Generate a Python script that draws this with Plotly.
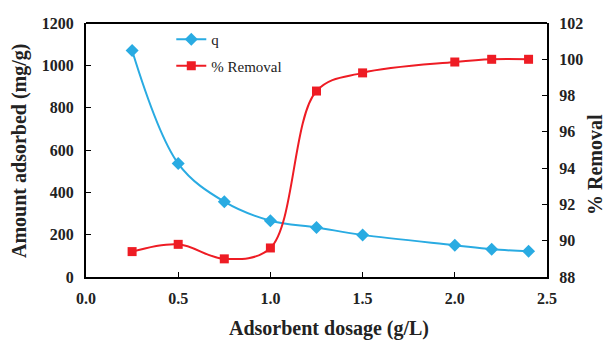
import plotly.graph_objects as go

dosage = [0.25, 0.5, 0.75, 1.0, 1.25, 1.5, 2.0, 2.2, 2.4]
q_values = [1070, 536, 356, 266, 234, 199, 150, 131, 122]
removal = [89.4, 89.8, 89.0, 89.6, 98.25, 99.25, 99.85, 100.0, 100.0]

x_ticks = [0.0, 0.5, 1.0, 1.5, 2.0, 2.5]
y1_ticks = [0, 200, 400, 600, 800, 1000, 1200]
y2_ticks = [88, 90, 92, 94, 96, 98, 100, 102]

BLUE = "#29ABE2"
RED = "#EE1C24"
FONT = "Liberation Serif, Times New Roman, serif"

fig = go.Figure()
fig.add_trace(go.Scatter(
    x=dosage, y=q_values, name="q", mode="lines+markers",
    line=dict(color=BLUE, width=2, shape="spline", smoothing=1.0),
    marker=dict(symbol="diamond", size=10, color=BLUE),
    legendgroup="a",
))
fig.add_trace(go.Scatter(
    x=dosage, y=removal, name="% Removal", mode="lines+markers", yaxis="y2",
    line=dict(color=RED, width=2, shape="spline", smoothing=1.0),
    marker=dict(symbol="square", size=9, color=RED),
    legendgroup="b",
))

tickfont = dict(family=FONT, size=16, color="#222222", weight="bold")
axis_common = dict(
    showline=True, linecolor="black", linewidth=2, mirror=False,
    ticks="inside", ticklen=5, tickwidth=1, tickcolor="black",
    showgrid=False, zeroline=False, tickfont=tickfont,
)

fig.update_layout(
    width=606, height=340,
    font=dict(family=FONT, color="#222222"),
    margin=dict(l=86, r=59, t=23, b=63),
    paper_bgcolor="white", plot_bgcolor="white",
    xaxis=dict(range=[0, 2.5], tickvals=x_ticks, tickformat=".1f",
               ticklabelstandoff=6, **axis_common),
    yaxis=dict(range=[0, 1200], tickvals=y1_ticks,
               ticklabelstandoff=7, **axis_common),
    yaxis2=dict(range=[88, 102], tickvals=y2_ticks, overlaying="y",
                side="right", ticklabelstandoff=7, **axis_common),
    legend=dict(x=0.185, y=1.0, xanchor="left", yanchor="top",
                bgcolor="rgba(0,0,0,0)", tracegroupgap=4,
                traceorder="grouped",
                font=dict(family=FONT, size=15, color="#222222")),
    showlegend=True,
)

# top border line of plot area
fig.add_shape(type="line", xref="paper", yref="paper", x0=0, x1=1, y0=1, y1=1,
              line=dict(color="black", width=2))

title_font = dict(family=FONT, size=20, color="#222222", weight="bold")
fig.add_annotation(text="Amount adsorbed (mg/g)", xref="paper", yref="paper",
                   x=(19 - 86) / 461, y=(277 - 151) / 254, textangle=-90,
                   showarrow=False, font=title_font, xanchor="center", yanchor="middle")
fig.add_annotation(text="% Removal", xref="paper", yref="paper",
                   x=(595 - 86) / 461, y=(277 - 165) / 254, textangle=-90,
                   showarrow=False, font=title_font, xanchor="center", yanchor="middle")
fig.add_annotation(text="Adsorbent dosage (g/L)", xref="paper", yref="paper",
                   x=(329 - 86) / 461, y=-(328 - 277) / 254,
                   showarrow=False, font=title_font, xanchor="center", yanchor="middle")

fig.write_html("out.html")
